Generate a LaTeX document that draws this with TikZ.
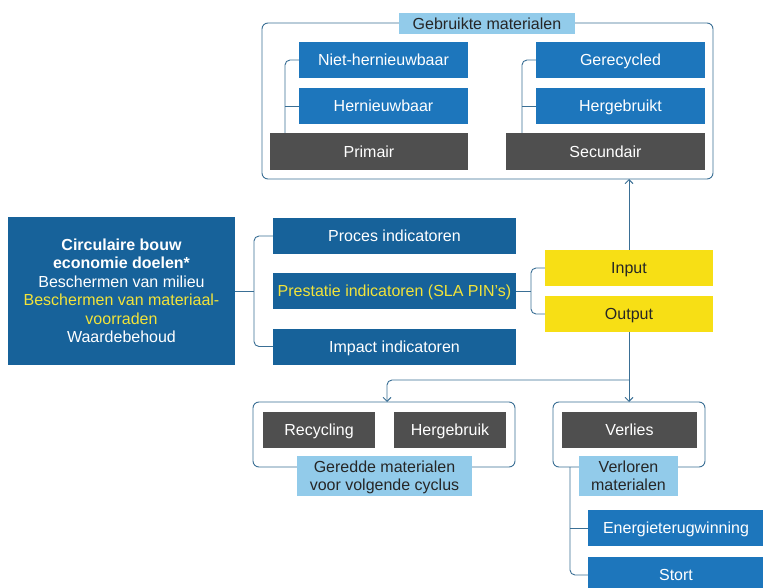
\documentclass[tikz,border=0pt]{standalone}
\usepackage{fontspec}
\setmainfont{Liberation Sans}
\usetikzlibrary{arrows.meta}
\definecolor{bblue}{HTML}{1D76BC}
\definecolor{dblue}{HTML}{17629A}
\definecolor{dgray}{HTML}{4F4F4F}
\definecolor{lblue}{HTML}{92CBEA}
\definecolor{yel}{HTML}{F7DF15}
\definecolor{ln}{HTML}{3A6F95}
\definecolor{ytext}{HTML}{F2E33A}
\tikzset{
  base/.style={inner sep=0pt, font=\fontsize{16}{18.5}\selectfont, align=center},
  sl/.style={text height=13pt, text depth=1.5pt},
  tl/.style={text height=31pt, text depth=1.5pt},
  bluebox/.style={base, sl, fill=bblue, text=white},
  darkbox/.style={base, fill=dblue, text=white},
  graybox/.style={base, sl, fill=dgray, text=white},
  labelbox/.style={base, fill=lblue, text=black!85},
  yelbox/.style={base, sl, fill=yel, text=black!85},
  grp/.style={draw=ln, line width=0.9pt, rounded corners=6pt},
  conn/.style={draw=ln, line width=0.9pt, rounded corners=5pt},
  arr/.style={conn, -{Straight Barb[length=4pt,width=8pt]}},
}
\begin{document}
\begin{tikzpicture}[x=1pt,y=-1pt]
\useasboundingbox (0,0) rectangle (763,588);
\fill[white] (0,0) rectangle (763,588);
% top group
\draw[grp] (262,23) rectangle (713,179);
\node[labelbox, sl, minimum width=176, minimum height=21] (gm) at (487,23.5) {Gebruikte materialen};
\node[bluebox, minimum width=169, minimum height=36] (nh) at (383.5,60) {Niet-hernieuwbaar};
\node[bluebox, minimum width=169, minimum height=36] (hw) at (383.5,106) {Hernieuwbaar};
\node[graybox, minimum width=198, minimum height=37] (pr) at (369,151.5) {Primair};
\node[bluebox, minimum width=169, minimum height=36] (gr) at (620.5,60) {Gerecycled};
\node[bluebox, minimum width=169, minimum height=36] (hg) at (620.5,106) {Hergebruikt};
\node[graybox, minimum width=199, minimum height=37] (se) at (605.5,151.5) {Secundair};
\draw[conn] (pr.north -| 285,0) |- (nh.west);
\draw[conn] (285,106) -- (hw.west);
\draw[conn] (se.north -| 522,0) |- (gr.west);
\draw[conn] (522,106) -- (hg.west);
% left goals box
\node[darkbox, minimum width=227, minimum height=148] (goal) at (121.5,291) {%
  \textbf{Circulaire bouw}\\
  \textbf{economie doelen*}\\
  Beschermen van milieu\\
  \textcolor{ytext}{Beschermen van materiaal-}\\
  \textcolor{ytext}{voorraden}\\
  Waardebehoud};
% indicators
\node[darkbox, sl, minimum width=243, minimum height=36] (proc) at (394.5,236) {Proces indicatoren};
\node[darkbox, sl, minimum width=243, minimum height=36, text=ytext] (prest) at (394.5,291) {Prestatie indicatoren (SLA PIN’s)};
\node[darkbox, sl, minimum width=243, minimum height=36] (imp) at (394.5,346.5) {Impact indicatoren};
\draw[conn] (goal.east) -- (254,291);
\draw[conn] (proc.west) -| (254,291) |- (imp.west);
% input / output
\node[yelbox, minimum width=168, minimum height=36] (in) at (629,268) {Input};
\node[yelbox, minimum width=168, minimum height=36] (out) at (629,314) {Output};
\draw[conn] (prest.east) -- (531,291);
\draw[conn] (in.west) -| (531,291) |- (out.west);
\coordinate (topb) at (629,179);
\draw[arr] (in.north) -- (topb);
% bottom groups
\draw[grp] (253,402) rectangle (515,467);
\draw[grp] (553,402) rectangle (705,467);
\node[graybox, minimum width=112, minimum height=36] (rec) at (319,430) {Recycling};
\node[graybox, minimum width=112, minimum height=36] (herg) at (450,430) {Hergebruik};
\node[labelbox, tl, minimum width=175, minimum height=40] (ged) at (384.5,476) {Geredde materialen\\voor volgende cyclus};
\node[graybox, minimum width=135, minimum height=36] (ver) at (629.5,430) {Verlies};
\node[labelbox, tl, minimum width=99, minimum height=40] (vm) at (628.5,476) {Verloren\\materialen};
\coordinate (lg) at (387,402);
\coordinate (rg) at (629,402);
\draw[arr] (out.south) -- (rg);
\draw[arr] (629,380) -| (lg);
% energy / stort
\node[bluebox, minimum width=176, minimum height=36] (en) at (676,528) {Energieterugwinning};
\node[bluebox, minimum width=176, minimum height=36] (st) at (676,575) {Stort};
\draw[conn] (570,467) |- (st.west);
\draw[conn] (570,528) -- (en.west);
\end{tikzpicture}
\end{document}
